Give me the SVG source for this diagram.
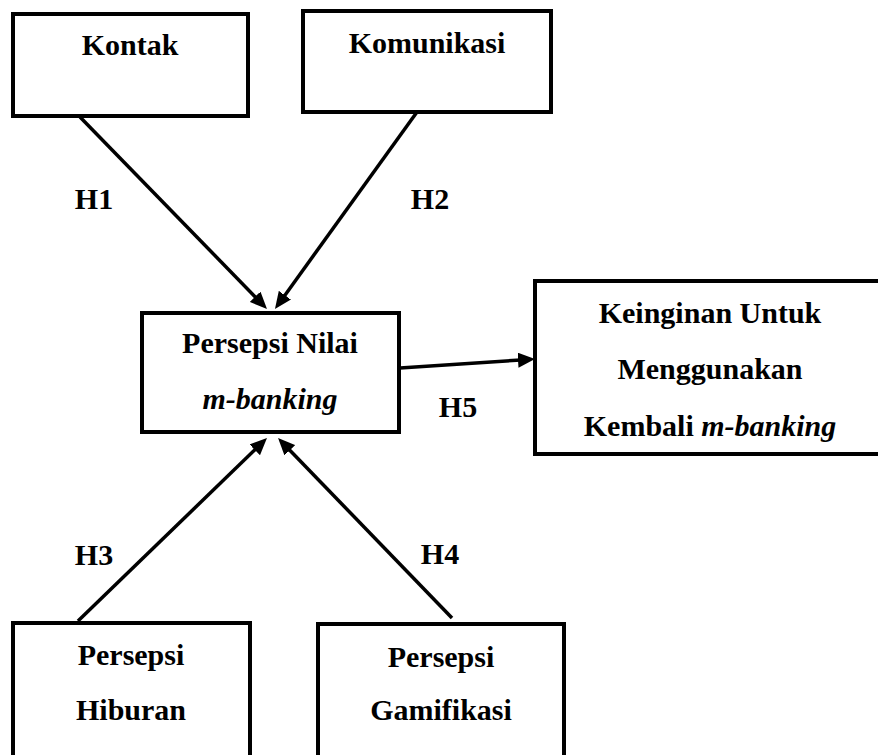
<svg xmlns="http://www.w3.org/2000/svg" width="878" height="755" viewBox="0 0 878 755">
<style>
.box{fill:#fff;stroke:#000;stroke-width:4;}
.c{stroke:#000;stroke-width:3.5;fill:none;}
</style>
<defs>
<marker id="ah" markerUnits="userSpaceOnUse" markerWidth="17" markerHeight="15" refX="7" refY="7.5" orient="auto">
<path d="M0,0 L17,7.5 L0,15 z" fill="#000"/>
</marker>
</defs>
<rect width="878" height="755" fill="#fff"/>
<g id="connectors">
<line class="c" x1="80" y1="117" x2="260" y2="301.8" marker-end="url(#ah)"/>
<line class="c" x1="417" y1="112" x2="280.8" y2="300.9" marker-end="url(#ah)"/>
<line class="c" x1="400" y1="368" x2="525" y2="359.7" marker-end="url(#ah)"/>
<line class="c" x1="78" y1="621" x2="259.8" y2="445" marker-end="url(#ah)"/>
<line class="c" x1="452" y1="618" x2="285" y2="445.2" marker-end="url(#ah)"/>
</g>
<g id="labels">
<text x="94" y="209" font-family="Liberation Serif, serif" font-weight="bold" font-size="30" text-anchor="middle">H1</text>
<text x="430" y="209" font-family="Liberation Serif, serif" font-weight="bold" font-size="30" text-anchor="middle">H2</text>
<text x="94" y="565" font-family="Liberation Serif, serif" font-weight="bold" font-size="30" text-anchor="middle">H3</text>
<text x="440" y="564" font-family="Liberation Serif, serif" font-weight="bold" font-size="30" text-anchor="middle">H4</text>
<text x="458" y="417" font-family="Liberation Serif, serif" font-weight="bold" font-size="30" text-anchor="middle">H5</text>
</g>
<g id="kontak">
<rect class="box" x="13" y="14" width="235" height="102"/>
<text x="130" y="55" font-family="Liberation Serif, serif" font-weight="bold" font-size="30" text-anchor="middle">Kontak</text>
</g>
<g id="komunikasi">
<rect class="box" x="303" y="11" width="248" height="101"/>
<text x="427" y="53" font-family="Liberation Serif, serif" font-weight="bold" font-size="30" text-anchor="middle">Komunikasi</text>
</g>
<g id="persepsi-nilai">
<rect class="box" x="142" y="313" width="257" height="119"/>
<text x="270" y="353" font-family="Liberation Serif, serif" font-weight="bold" font-size="30" text-anchor="middle">Persepsi Nilai</text>
<text x="270" y="409" font-family="Liberation Serif, serif" font-weight="bold" font-style="italic" font-size="30" text-anchor="middle">m-banking</text>
</g>
<g id="keinginan">
<rect class="box" x="535" y="281" width="345" height="173"/>
<text x="710" y="323" font-family="Liberation Serif, serif" font-weight="bold" font-size="30" text-anchor="middle">Keinginan Untuk</text>
<text x="710" y="379" font-family="Liberation Serif, serif" font-weight="bold" font-size="30" text-anchor="middle">Menggunakan</text>
<text x="710" y="436" font-family="Liberation Serif, serif" font-weight="bold" font-size="30" text-anchor="middle">Kembali <tspan font-style="italic">m-banking</tspan></text>
</g>
<g id="persepsi-hiburan">
<rect class="box" x="13" y="623" width="237" height="140"/>
<text x="131" y="665" font-family="Liberation Serif, serif" font-weight="bold" font-size="30" text-anchor="middle">Persepsi</text>
<text x="131" y="720" font-family="Liberation Serif, serif" font-weight="bold" font-size="30" text-anchor="middle">Hiburan</text>
</g>
<g id="persepsi-gamifikasi">
<rect class="box" x="318" y="624" width="246" height="140"/>
<text x="441" y="667" font-family="Liberation Serif, serif" font-weight="bold" font-size="30" text-anchor="middle">Persepsi</text>
<text x="441" y="720" font-family="Liberation Serif, serif" font-weight="bold" font-size="30" text-anchor="middle">Gamifikasi</text>
</g>
</svg>
